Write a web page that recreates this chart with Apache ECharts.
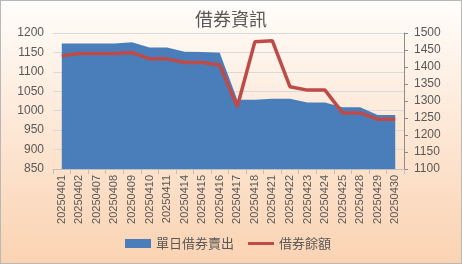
<!DOCTYPE html>
<html><head><meta charset="utf-8">
<script src="https://cdn.jsdelivr.net/npm/echarts@6/dist/echarts.min.js"></script>
<style>
html,body{margin:0;padding:0;}
#wrap{width:462px;height:264px;box-sizing:border-box;border:1px solid #b8b8b8;background:linear-gradient(to bottom,#fffdfb 0%,#fde9d8 45%,#fad3b2 100%);}
#c{width:460px;height:262px;}
</style></head>
<body><div id="wrap"><div id="c"></div></div>
<script>
const categories = ['20250401','20250402','20250407','20250408','20250409','20250410','20250411','20250414','20250415','20250416','20250417','20250418','20250421','20250422','20250423','20250424','20250425','20250428','20250429','20250430'];
const dailySell = [1173,1173,1173,1173,1176,1163,1163,1152,1151,1149,1028,1028,1031,1031,1021,1021,1009,1009,989,989];
const balance = [1433,1440,1440,1440,1443,1424,1424,1413,1413,1406,1283,1474,1477,1342,1332,1332,1265,1265,1246,1246];
const leftTicks = {min:850,max:1200,interval:50};
const rightTicks = {min:1100,max:1500,interval:50};

const chart = echarts.init(document.getElementById('c'));
const txt = '#595959';
const ff = '"Liberation Sans", Arial, "Noto Sans CJK TC", sans-serif';
chart.setOption({
  animation:false,
  textStyle:{fontFamily:ff},
  title:{text:'借券資訊',left:'center',top:4,textStyle:{color:txt,fontSize:18,fontWeight:'normal',fontFamily:'"Noto Sans CJK TC", sans-serif'}},
  grid:{left:52,right:57,top:32,bottom:94},
  legend:{bottom:8,left:119,itemGap:14,itemWidth:26,itemHeight:9,textStyle:{color:txt,fontSize:13,fontFamily:'"Noto Sans CJK TC", sans-serif'},
    data:[{name:'單日借券賣出',icon:'rect'},{name:'借券餘額',icon:'path://M0,4 L26,4 L26,7 L0,7 Z'}]},
  xAxis:{type:'category',data:categories,boundaryGap:true,
    axisLine:{lineStyle:{color:'#bfbfbf'}},axisTick:{show:true,lineStyle:{color:'#bfbfbf'}},
    axisLabel:{rotate:90,color:txt,fontSize:11,interval:0,margin:6}},
  yAxis:[
    {type:'value',min:leftTicks.min,max:leftTicks.max,interval:leftTicks.interval,
     axisLine:{show:false},axisTick:{show:false},
     axisLabel:{color:txt,fontSize:12,margin:9,formatter:v=>String(v)},
     splitLine:{lineStyle:{color:'#d9d9d9'}}},
    {type:'value',min:rightTicks.min,max:rightTicks.max,interval:rightTicks.interval,position:'right',
     axisLine:{show:true,lineStyle:{color:'#8c8c8c'}},axisTick:{show:true,length:4,lineStyle:{color:'#8c8c8c'}},
     axisLabel:{color:txt,fontSize:12,margin:10,formatter:v=>String(v)},
     splitLine:{show:false}}
  ],
  series:[
    {name:'單日借券賣出',type:'line',data:dailySell,yAxisIndex:0,symbol:'none',
     lineStyle:{width:0,color:'#4a7ebb'},itemStyle:{color:'#4a7ebb'},
     areaStyle:{color:'#4a7ebb',opacity:1,origin:'start'}},
    {name:'借券餘額',type:'line',data:balance,yAxisIndex:1,symbol:'none',
     lineStyle:{width:3.5,color:'#be4b48'},itemStyle:{color:'#be4b48'}}
  ]
});
</script></body></html>
